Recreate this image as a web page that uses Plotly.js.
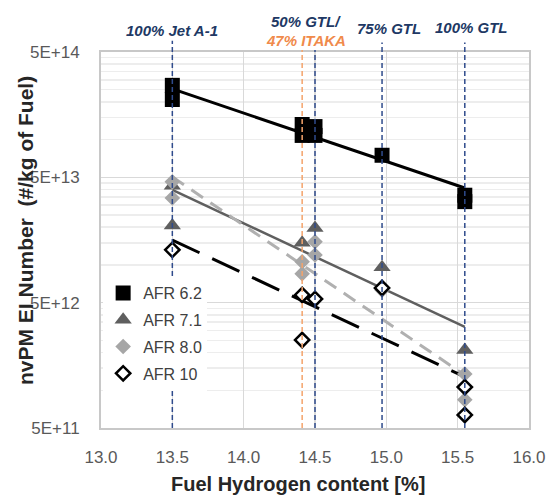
<!DOCTYPE html>
<html>
<head>
<meta charset="utf-8">
<script src="https://cdn.plot.ly/plotly-3.0.1.min.js"></script>
<style>html,body{margin:0;padding:0;background:#fff;}#chart{width:547px;height:497px;}</style>
</head>
<body>
<div id="chart"></div>
<script>
// ---- data ----
const seriesNames = ['AFR 6.2', 'AFR 7.1', 'AFR 8.0', 'AFR 10'];

const afr62X = [13.5, 13.5, 14.41, 14.41, 14.5, 14.5, 14.97, 15.55, 15.55];
const afr62Y = [2.71e14, 2.09e14, 1.32e14, 1.08e14, 1.27e14, 1.08e14, 7.5e13, 3.6e13, 3.2e13];

const afr71X = [13.5, 13.5, 14.41, 14.5, 14.97, 15.55];
const afr71Y = [4.29e13, 2.06e13, 1.50e13, 1.97e13, 9.6e12, 2.1e12];

const afr80X = [13.5, 13.5, 14.41, 14.41, 14.5, 14.5, 14.97, 15.55, 15.55];
const afr80Y = [4.6e13, 3.42e13, 1.06e13, 8.5e12, 1.53e13, 1.2e13, 6.3e12, 1.35e12, 8.4e11];

const afr10X = [13.5, 14.41, 14.41, 14.5, 14.97, 15.55, 15.55];
const afr10Y = [1.32e13, 5.76e12, 2.52e12, 5.35e12, 6.55e12, 1.06e12, 6.35e11];

// trendline end points
const trendX = [13.5, 15.55];
const trend62 = [2.54e14, 4.11e13];
const trend71 = [3.97e13, 3.2e12];
const trend80 = [5.04e13, 1.32e12];
const trend10 = [1.58e13, 1.28e12];

// reference fuel lines
const fuelLineX = [13.5, 14.41, 14.5, 14.97, 15.55];
const fuelLineColor = ['#2F4B8C', '#F4A36B', '#2F4B8C', '#2F4B8C', '#2F4B8C'];
const fuelLineTop = [1.03, 1.005, 1.005, 1.025, 1.025];

const fuelLabels = ['100% Jet A-1', '50% GTL/', '47% ITAKA', '75% GTL', '100% GTL'];
const fuelLabelX = [13.5, 14.44, 14.44, 15.02, 15.6];
const fuelLabelYpx = [31, 21, 40, 28, 27];
const fuelLabelColor = ['#203864', '#203864', '#F08A4B', '#203864', '#203864'];

const xTickVals = [13.0, 13.5, 14.0, 14.5, 15.0, 15.5, 16.0];
const yTickVals = [5e11, 5e12, 5e13, 5e14];
const yTickText = ['5E+11', '5E+12', '5E+13', '5E+14'];

// ---- layout helpers ----
const W = 547, H = 497;
const M = {l: 101, r: 18, t: 52, b: 69};
const plotH = H - M.t - M.b;
const pyPaper = px => (H - M.b - px) / plotH;

const minorVals = [];
[5e11, 5e12, 5e13].forEach(b => { for (let k = 2; k <= 9; k++) minorVals.push(b * k); });

const FONT = '"Liberation Sans", Arial, sans-serif';

const traces = [
  {x: trendX, y: trend62, mode: 'lines', line: {color: '#000000', width: 3}, showlegend: false, hoverinfo: 'skip'},
  {x: trendX, y: trend71, mode: 'lines', line: {color: '#5F5F5F', width: 2.5}, showlegend: false, hoverinfo: 'skip'},
  {x: trendX, y: trend80, mode: 'lines', line: {color: '#B0B0B0', width: 3, dash: '14px,9px'}, showlegend: false, hoverinfo: 'skip'},
  {x: trendX, y: trend10, mode: 'lines', line: {color: '#000000', width: 3, dash: '30px,14px'}, showlegend: false, hoverinfo: 'skip'},
  {x: afr62X, y: afr62Y, name: seriesNames[0], legendgroup: 'g1', mode: 'markers', marker: {symbol: 'square', size: 15, color: '#000000'}},
  {x: afr71X, y: afr71Y, name: seriesNames[1], legendgroup: 'g2', mode: 'markers', marker: {symbol: 'triangle-up', size: 15, color: '#5F5F5F'}},
  {x: afr80X, y: afr80Y, name: seriesNames[2], legendgroup: 'g3', mode: 'markers', marker: {symbol: 'diamond', size: 12, color: '#A6A6A6'}},
  {x: afr10X, y: afr10Y, name: seriesNames[3], legendgroup: 'g4', mode: 'markers', marker: {symbol: 'diamond', size: 11, color: '#FFFFFF', line: {color: '#000000', width: 2.5}}}
];

const shapes = fuelLineX.map((xv, i) => ({
  type: 'line', xref: 'x', yref: 'paper', x0: xv, x1: xv, y0: 0, y1: fuelLineTop[i],
  line: {color: fuelLineColor[i], width: 1.5, dash: '5px,3px'}, layer: 'above'
}));

const annotations = fuelLabels.map((t, i) => ({
  text: '<b><i>' + t + '</i></b>', xref: 'x', yref: 'paper', x: fuelLabelX[i], y: pyPaper(fuelLabelYpx[i]),
  xanchor: 'center', yanchor: 'middle', showarrow: false,
  font: {family: FONT, size: 15, color: fuelLabelColor[i]}
}));
annotations.push({
  text: '<b>nvPM EI Number  (#/kg of Fuel)</b>', xref: 'paper', yref: 'paper',
  x: (25 - M.l) / (W - M.l - M.r), y: pyPaper(231), textangle: -90,
  xanchor: 'center', yanchor: 'middle', showarrow: false,
  font: {family: FONT, size: 21, color: '#262626'}
});
annotations.push({
  text: '<b>Fuel Hydrogen content [%]</b>', xref: 'paper', yref: 'paper',
  x: (298 - M.l) / (W - M.l - M.r), y: pyPaper(484),
  xanchor: 'center', yanchor: 'middle', showarrow: false,
  font: {family: FONT, size: 20, color: '#262626'}
});

const layout = {
  width: W, height: H, margin: M,
  paper_bgcolor: '#ffffff', plot_bgcolor: '#ffffff',
  font: {family: FONT, color: '#595959'},
  showlegend: true,
  legend: {x: 0.005, y: pyPaper(276), xanchor: 'left', yanchor: 'top', bgcolor: '#ffffff',
           traceorder: 'grouped', tracegroupgap: 3,
           font: {family: FONT, size: 16, color: '#404040'}},
  xaxis: {range: [13, 16], tickvals: xTickVals, tickformat: '.1f',
          showgrid: true, gridcolor: '#D9D9D9', gridwidth: 1.5, zeroline: false,
          showline: true, mirror: true, linecolor: '#C8C8C8', linewidth: 2,
          ticks: 'outside', ticklen: 13, tickcolor: 'rgba(0,0,0,0)',
          tickfont: {family: FONT, size: 17, color: '#595959'}},
  yaxis: {type: 'log', range: [Math.log10(5e11), Math.log10(5e14)],
          tickmode: 'array', tickvals: yTickVals, ticktext: yTickText,
          showgrid: true, gridcolor: '#D9D9D9', gridwidth: 1.5, zeroline: false,
          showline: true, mirror: true, linecolor: '#C8C8C8', linewidth: 2,
          ticks: 'outside', ticklen: 16, tickcolor: 'rgba(0,0,0,0)',
          tickfont: {family: FONT, size: 17, color: '#595959'},
          minor: {tickmode: 'array', tickvals: minorVals, showgrid: true, gridcolor: '#EDEDED', gridwidth: 1.5, ticks: ''}},
  shapes: shapes,
  annotations: annotations
};

Plotly.newPlot('chart', traces, layout, {displayModeBar: false, staticPlot: true});
</script>
</body>
</html>
